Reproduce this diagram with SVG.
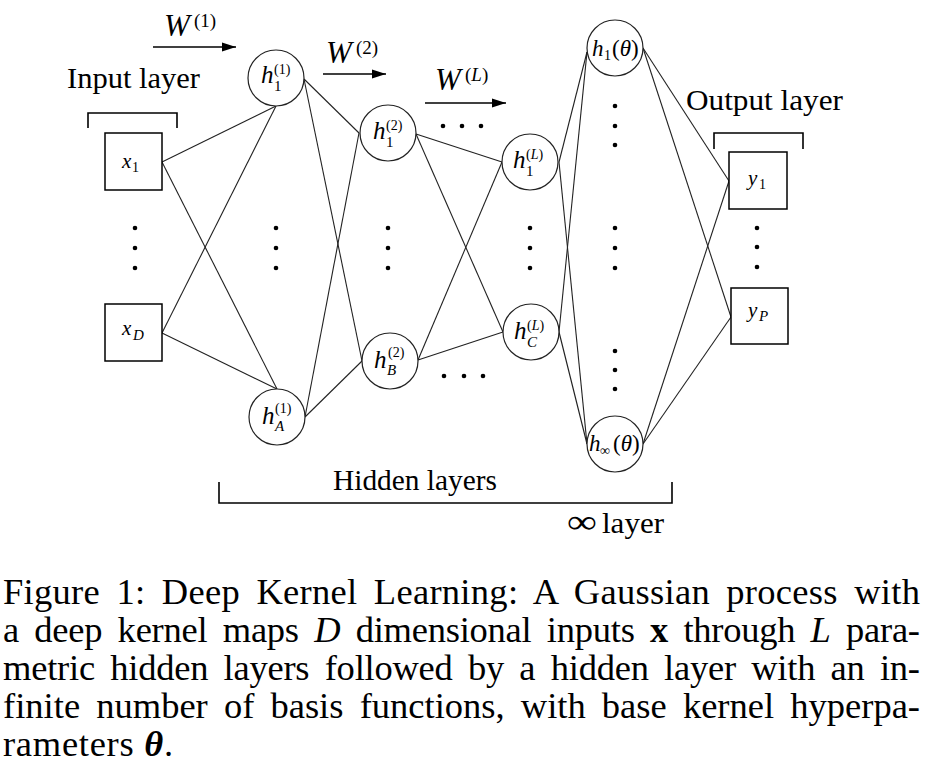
<svg xmlns="http://www.w3.org/2000/svg" width="925" height="770" viewBox="0 0 925 770">
<defs>
<style>
.t{font-family:"Liberation Serif","Times New Roman",serif;fill:#000}
.m{font-family:"Liberation Serif","Times New Roman",serif;font-style:italic;fill:#000}
.nd{fill:#fff;stroke:#222;stroke-width:1.2}
.bx{fill:#fff;stroke:#000;stroke-width:1.5}
.e{stroke:#222;stroke-width:1.1;fill:none}
.br{stroke:#000;stroke-width:1.6;fill:none}
.ar{stroke:#000;stroke-width:1.4;fill:none}
.dot{fill:#000}
</style>
<marker id="ah" markerUnits="userSpaceOnUse" markerWidth="14" markerHeight="10" refX="14" refY="5" orient="auto">
<path d="M0,0.5 L14,5 L0,9.5 z" fill="#000"/>
</marker>
</defs>
<rect width="925" height="770" fill="#fff"/>

<g id="connectors">
<line class="e" x1="162" y1="162" x2="276" y2="106"/>
<line class="e" x1="162" y1="162" x2="277" y2="389"/>
<line class="e" x1="162" y1="333" x2="276" y2="106"/>
<line class="e" x1="162" y1="333" x2="277" y2="389"/>
<line class="e" x1="304" y1="79" x2="359" y2="133"/>
<line class="e" x1="304" y1="79" x2="362" y2="361"/>
<line class="e" x1="305" y1="417" x2="359" y2="133"/>
<line class="e" x1="305" y1="417" x2="362" y2="361"/>
<line class="e" x1="416" y1="134" x2="502" y2="162"/>
<line class="e" x1="416" y1="134" x2="503" y2="332"/>
<line class="e" x1="418" y1="360" x2="502" y2="162"/>
<line class="e" x1="418" y1="360" x2="503" y2="332"/>
<line class="e" x1="559" y1="162" x2="587" y2="52"/>
<line class="e" x1="559" y1="162" x2="587" y2="444"/>
<line class="e" x1="559" y1="332" x2="587" y2="52"/>
<line class="e" x1="559" y1="332" x2="587" y2="444"/>
<line class="e" x1="643" y1="48" x2="729" y2="181"/>
<line class="e" x1="643" y1="48" x2="731" y2="317"/>
<line class="e" x1="643" y1="444" x2="729" y2="181"/>
<line class="e" x1="643" y1="444" x2="731" y2="317"/>
</g>

<g id="weights">
<line class="ar" x1="153" y1="47" x2="236" y2="47" marker-end="url(#ah)"/>
<text class="m" x="164" y="36" font-size="31">W</text>
<text class="t" x="194" y="27" font-size="19">(1)</text>
<line class="ar" x1="323" y1="74" x2="386" y2="74" marker-end="url(#ah)"/>
<text class="m" x="326" y="63" font-size="31">W</text>
<text class="t" x="356" y="54" font-size="19">(2)</text>
<line class="ar" x1="425" y1="103" x2="506" y2="103" marker-end="url(#ah)"/>
<text class="m" x="435" y="90" font-size="31">W</text>
<text class="t" x="465" y="81" font-size="19">(<tspan font-style="italic">L</tspan>)</text>
</g>

<g id="labels">
<text class="t" x="67" y="88" font-size="29" textLength="133" lengthAdjust="spacingAndGlyphs">Input layer</text>
<path class="br" d="M88,128 V113 H177 V128"/>
<text class="t" x="686" y="110" font-size="29" textLength="157" lengthAdjust="spacingAndGlyphs">Output layer</text>
<path class="br" d="M714,149 V133 H803 V149"/>
<text class="t" x="333" y="490" font-size="29" textLength="164" lengthAdjust="spacingAndGlyphs">Hidden layers</text>
<path class="br" d="M219,482 V503 H672 V482"/>
<text class="t" x="567" y="533" font-size="34" textLength="30" lengthAdjust="spacingAndGlyphs">∞</text>
<text class="t" x="602" y="533" font-size="29" textLength="62" lengthAdjust="spacingAndGlyphs">layer</text>
</g>

<g id="dots">
<circle class="dot" cx="135" cy="228" r="2.3"/><circle class="dot" cx="135" cy="248" r="2.3"/><circle class="dot" cx="135" cy="268" r="2.3"/>
<circle class="dot" cx="276" cy="228" r="2.3"/><circle class="dot" cx="276" cy="248" r="2.3"/><circle class="dot" cx="276" cy="268" r="2.3"/>
<circle class="dot" cx="388" cy="228" r="2.3"/><circle class="dot" cx="388" cy="248" r="2.3"/><circle class="dot" cx="388" cy="268" r="2.3"/>
<circle class="dot" cx="530" cy="228" r="2.3"/><circle class="dot" cx="530" cy="248" r="2.3"/><circle class="dot" cx="530" cy="268" r="2.3"/>
<circle class="dot" cx="615" cy="106" r="2.3"/><circle class="dot" cx="615" cy="126" r="2.3"/><circle class="dot" cx="615" cy="145" r="2.3"/>
<circle class="dot" cx="615" cy="228" r="2.3"/><circle class="dot" cx="615" cy="248" r="2.3"/><circle class="dot" cx="615" cy="268" r="2.3"/>
<circle class="dot" cx="615" cy="351" r="2.3"/><circle class="dot" cx="615" cy="370" r="2.3"/><circle class="dot" cx="615" cy="389" r="2.3"/>
<circle class="dot" cx="757" cy="228" r="2.3"/><circle class="dot" cx="757" cy="247" r="2.3"/><circle class="dot" cx="757" cy="267" r="2.3"/>
<circle class="dot" cx="443" cy="126" r="2.3"/><circle class="dot" cx="462" cy="126" r="2.3"/><circle class="dot" cx="481" cy="126" r="2.3"/>
<circle class="dot" cx="444" cy="376" r="2.3"/><circle class="dot" cx="464" cy="376" r="2.3"/><circle class="dot" cx="483" cy="376" r="2.3"/>
</g>

<g id="x1">
<rect class="bx" x="105" y="133" width="57" height="57"/>
<text class="m" x="122" y="168" font-size="21">x</text>
<text class="t" x="132" y="172" font-size="14">1</text>
</g>
<g id="xD">
<rect class="bx" x="105" y="304" width="57" height="57"/>
<text class="m" x="122" y="335" font-size="21">x</text>
<text class="m" x="133" y="340" font-size="15">D</text>
</g>

<g id="h1_1">
<circle class="nd" cx="276" cy="78" r="28"/>
<text class="m" x="261" y="83" font-size="25">h</text>
<text class="t" x="274" y="91" font-size="15">1</text>
<text class="t" x="274" y="74" font-size="14">(1)</text>
</g>
<g id="hA_1">
<circle class="nd" cx="277" cy="417" r="28"/>
<text class="m" x="262" y="424" font-size="25">h</text>
<text class="m" x="275" y="431" font-size="15">A</text>
<text class="t" x="275" y="413" font-size="14">(1)</text>
</g>
<g id="h1_2">
<circle class="nd" cx="388" cy="133" r="28"/>
<text class="m" x="373" y="139" font-size="25">h</text>
<text class="t" x="386" y="147" font-size="15">1</text>
<text class="t" x="386" y="130" font-size="14">(2)</text>
</g>
<g id="hB_2">
<circle class="nd" cx="390" cy="361" r="28"/>
<text class="m" x="374" y="368" font-size="25">h</text>
<text class="m" x="387" y="375" font-size="15">B</text>
<text class="t" x="388" y="357" font-size="14">(2)</text>
</g>
<g id="h1_L">
<circle class="nd" cx="530" cy="162" r="28"/>
<text class="m" x="513" y="168" font-size="25">h</text>
<text class="t" x="526" y="176" font-size="15">1</text>
<text class="t" x="526" y="159" font-size="14">(<tspan font-style="italic">L</tspan>)</text>
</g>
<g id="hC_L">
<circle class="nd" cx="531" cy="332" r="28"/>
<text class="m" x="514" y="339" font-size="25">h</text>
<text class="m" x="527" y="347" font-size="15">C</text>
<text class="t" x="527" y="330" font-size="14">(<tspan font-style="italic">L</tspan>)</text>
</g>
<g id="h1_theta">
<circle class="nd" cx="615" cy="48" r="28"/>
<text class="m" x="592" y="56" font-size="23">h</text>
<text class="t" x="604" y="60" font-size="14">1</text>
<text class="t" x="612" y="56" font-size="23">(<tspan font-style="italic">θ</tspan>)</text>
</g>
<g id="hinf_theta">
<circle class="nd" cx="615" cy="444" r="28"/>
<text class="m" x="589" y="451" font-size="23">h</text>
<text class="t" x="600" y="455" font-size="14">∞</text>
<text class="t" x="613" y="451" font-size="23">(<tspan font-style="italic">θ</tspan>)</text>
</g>

<g id="y1">
<rect class="bx" x="729" y="152" width="58" height="57"/>
<text class="m" x="748" y="185" font-size="21">y</text>
<text class="t" x="759" y="189" font-size="14">1</text>
</g>
<g id="yP">
<rect class="bx" x="731" y="288" width="57" height="56"/>
<text class="m" x="748" y="317" font-size="21">y</text>
<text class="m" x="759" y="321" font-size="15">P</text>
</g>

<g id="caption" class="t" font-size="36.5">
<text x="3" y="604" word-spacing="7" textLength="917" lengthAdjust="spacing">Figure 1: Deep Kernel Learning: A Gaussian process with</text>
<text x="3" y="642" word-spacing="6.5" textLength="917" lengthAdjust="spacing">a deep kernel maps <tspan font-style="italic">D</tspan> dimensional inputs <tspan font-weight="bold">x</tspan> through <tspan font-style="italic">L</tspan> para-</text>
<text x="3" y="680" word-spacing="6.5" textLength="917" lengthAdjust="spacing">metric hidden layers followed by a hidden layer with an in-</text>
<text x="3" y="718" word-spacing="7" textLength="917" lengthAdjust="spacing">finite number of basis functions, with base kernel hyperpa-</text>
<text x="3" y="756" textLength="170" lengthAdjust="spacing">rameters <tspan font-weight="bold" font-style="italic">θ</tspan>.</text>
</g>
</svg>
